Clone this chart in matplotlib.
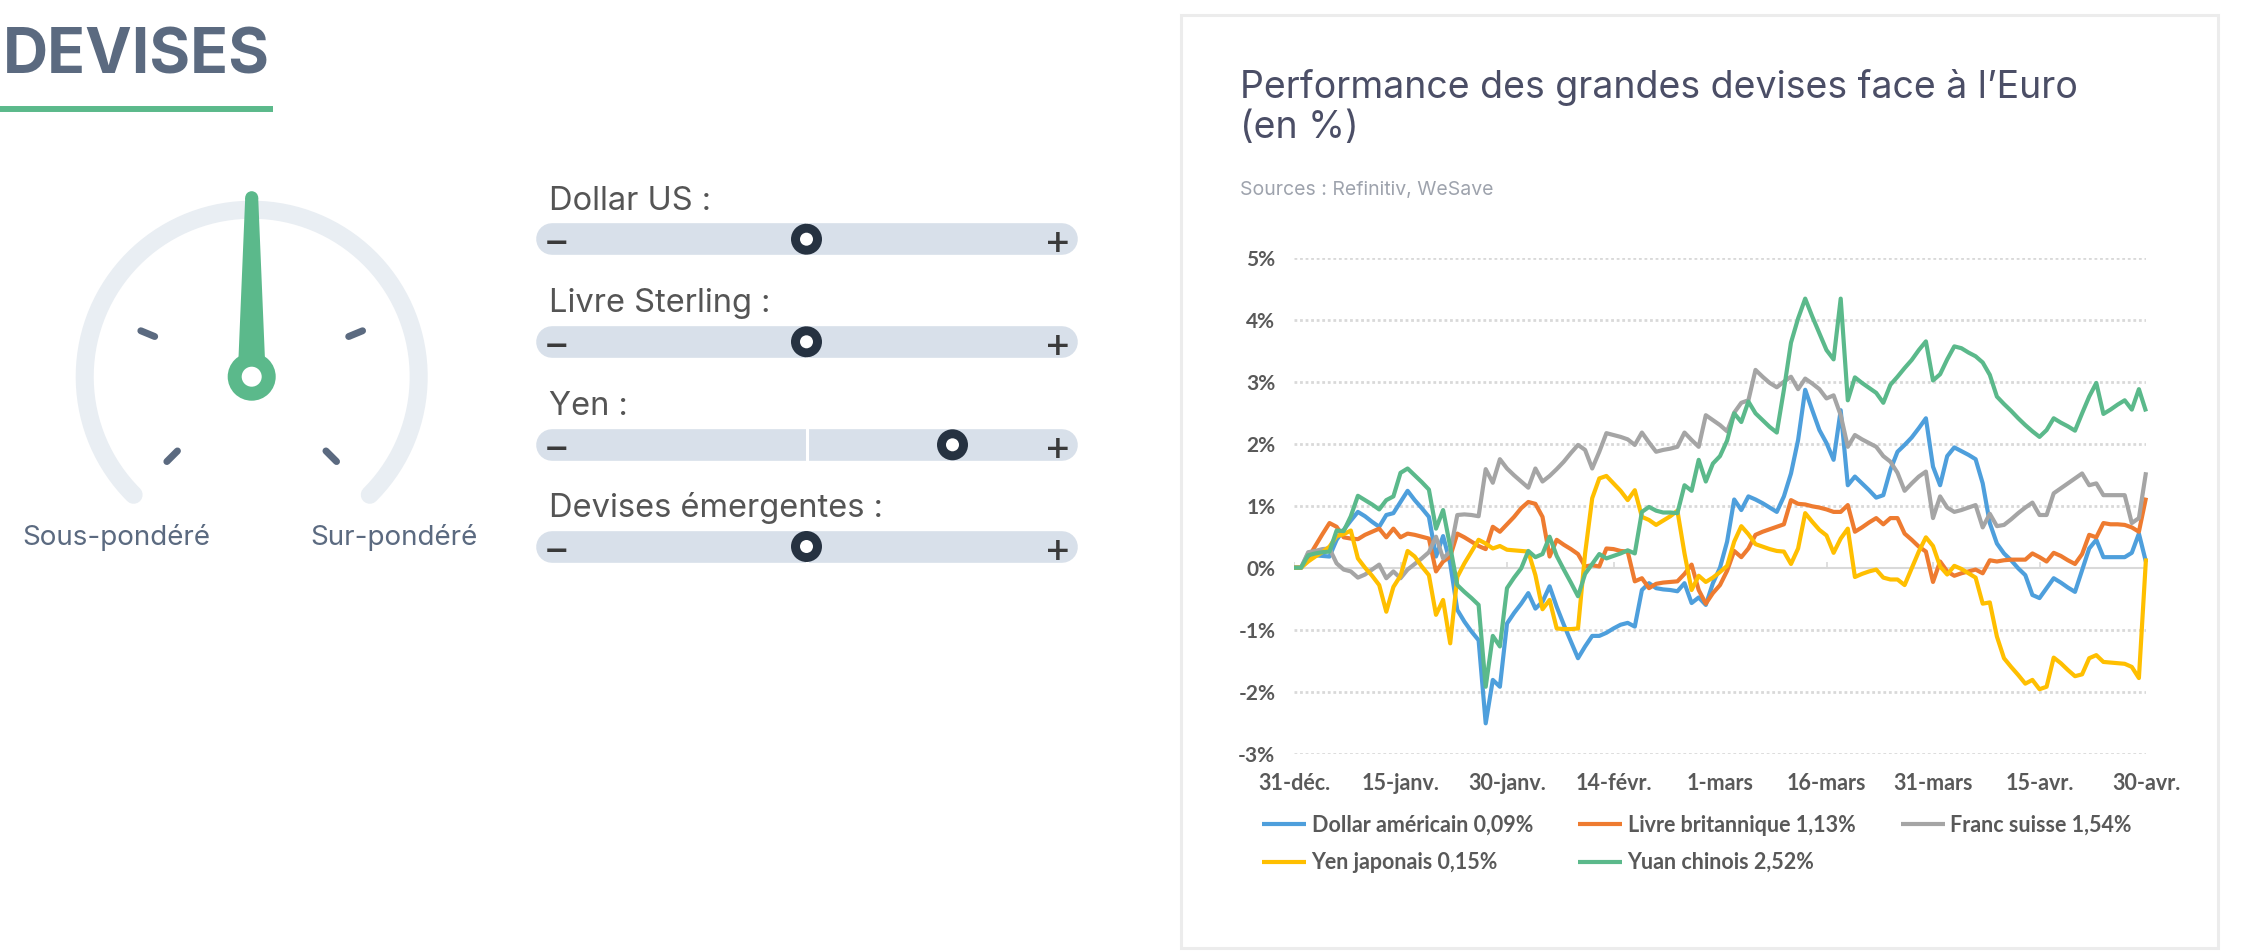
import matplotlib.pyplot as plt
import numpy as np
import pandas as pd
from matplotlib.patches import Circle, Polygon, Rectangle

plt.rcParams['font.family'] = ['Inter', 'DejaVu Sans']

W, H = 2247, 952

# ---- chart data: daily performance vs Euro, in % ----
dates = pd.date_range("2021-12-31", "2022-04-30", freq="D")
tick_labels = ["31-déc.", "15-janv.", "30-janv.", "14-févr.", "1-mars",
               "16-mars", "31-mars", "15-avr.", "30-avr."]

dollar = [0.00, 0.00, 0.23, 0.20, 0.19, 0.18, 0.45, 0.61, 0.76, 0.90,
          0.83, 0.74, 0.66, 0.85, 0.88, 1.06, 1.24, 1.09, 0.96, 0.82,
          0.18, 0.51, 0.07, -0.68, -0.87, -1.03, -1.17, -2.51, -1.81, -1.92,
          -0.90, -0.73, -0.58, -0.41, -0.66, -0.55, -0.30, -0.63, -0.92, -1.19,
          -1.46, -1.27, -1.10, -1.10, -1.05, -0.98, -0.92, -0.89, -0.95, -0.36,
          -0.25, -0.33, -0.35, -0.36, -0.38, -0.25, -0.57, -0.48, -0.60, -0.25,
          0.00, 0.42, 1.10, 0.93, 1.15, 1.10, 1.04, 0.97, 0.90, 1.15,
          1.52, 2.06, 2.87, 2.54, 2.22, 2.01, 1.74, 2.54, 1.33, 1.47,
          1.36, 1.25, 1.13, 1.17, 1.58, 1.87, 1.98, 2.10, 2.25, 2.41,
          1.63, 1.33, 1.80, 1.94, 1.88, 1.82, 1.75, 1.36, 0.72, 0.39,
          0.23, 0.12, -0.01, -0.12, -0.44, -0.49, -0.33, -0.17, -0.24, -0.32,
          -0.39, -0.04, 0.31, 0.45, 0.17, 0.17, 0.17, 0.17, 0.24, 0.55,
          0.09]

livre = [0.00, 0.00, 0.16, 0.35, 0.54, 0.72, 0.66, 0.49, 0.47, 0.46,
         0.53, 0.58, 0.63, 0.49, 0.63, 0.49, 0.55, 0.53, 0.50, 0.47,
         -0.06, 0.10, 0.18, 0.55, 0.49, 0.42, 0.35, 0.30, 0.66, 0.58,
         0.70, 0.82, 0.96, 1.06, 1.03, 0.82, 0.18, 0.45, 0.37, 0.30,
         0.22, 0.02, 0.04, 0.02, 0.31, 0.30, 0.27, 0.26, -0.22, -0.17,
         -0.33, -0.26, -0.24, -0.23, -0.22, -0.10, 0.05, -0.36, -0.58, -0.41,
         -0.28, -0.05, 0.27, 0.17, 0.31, 0.53, 0.58, 0.62, 0.66, 0.70,
         1.09, 1.03, 1.02, 0.99, 0.97, 0.94, 0.90, 0.90, 1.01, 0.58,
         0.65, 0.73, 0.80, 0.70, 0.80, 0.80, 0.55, 0.45, 0.34, 0.26,
         -0.23, 0.10, -0.06, -0.13, -0.09, -0.06, -0.03, -0.09, 0.12, 0.10,
         0.12, 0.13, 0.13, 0.13, 0.23, 0.17, 0.10, 0.24, 0.19, 0.12,
         0.06, 0.22, 0.53, 0.49, 0.72, 0.70, 0.70, 0.69, 0.65, 0.58,
         1.13]

franc = [0.00, 0.00, 0.25, 0.27, 0.30, 0.31, 0.07, -0.03, -0.06, -0.16,
         -0.11, -0.03, 0.05, -0.17, -0.06, -0.17, -0.03, 0.06, 0.15, 0.25,
         0.50, 0.15, 0.26, 0.85, 0.86, 0.85, 0.83, 1.59, 1.37, 1.75,
         1.60, 1.49, 1.39, 1.29, 1.60, 1.39, 1.48, 1.59, 1.71, 1.85,
         1.98, 1.90, 1.60, 1.87, 2.17, 2.14, 2.11, 2.07, 1.98, 2.18,
         2.02, 1.87, 1.90, 1.92, 1.95, 2.18, 2.06, 1.95, 2.46, 2.38,
         2.30, 2.20, 2.50, 2.66, 2.70, 3.19, 3.08, 2.98, 2.91, 3.00,
         3.08, 2.88, 3.05, 2.97, 2.88, 2.73, 2.78, 2.46, 1.95, 2.14,
         2.07, 2.01, 1.95, 1.80, 1.71, 1.53, 1.24, 1.36, 1.47, 1.55,
         0.80, 1.15, 0.97, 0.90, 0.93, 0.97, 1.01, 0.65, 0.87, 0.67,
         0.69, 0.78, 0.88, 0.97, 1.05, 0.85, 0.85, 1.20, 1.28, 1.36,
         1.44, 1.52, 1.33, 1.36, 1.17, 1.17, 1.17, 1.17, 0.72, 0.80,
         1.54]

yen = [0.00, 0.00, 0.10, 0.18, 0.25, 0.34, 0.51, 0.54, 0.60, 0.15,
       0.00, -0.13, -0.28, -0.71, -0.31, -0.13, 0.27, 0.18, 0.02, -0.12,
       -0.76, -0.52, -1.22, -0.15, 0.07, 0.26, 0.45, 0.39, 0.31, 0.35,
       0.29, 0.28, 0.27, 0.26, -0.12, -0.67, -0.52, -0.98, -0.99, -0.99,
       -0.98, 0.23, 1.12, 1.44, 1.48, 1.36, 1.24, 1.09, 1.25, 0.82,
       0.77, 0.69, 0.76, 0.83, 0.92, 0.23, -0.36, -0.13, -0.23, -0.16,
       -0.07, 0.03, 0.42, 0.67, 0.54, 0.38, 0.34, 0.30, 0.27, 0.26,
       0.06, 0.31, 0.88, 0.74, 0.61, 0.52, 0.24, 0.47, 0.63, -0.15,
       -0.10, -0.06, -0.03, -0.16, -0.19, -0.19, -0.28, -0.01, 0.26, 0.49,
       0.35, 0.02, -0.11, 0.03, -0.02, -0.09, -0.16, -0.58, -0.56, -1.11,
       -1.46, -1.60, -1.73, -1.87, -1.81, -1.96, -1.92, -1.45, -1.54, -1.65,
       -1.75, -1.72, -1.46, -1.41, -1.52, -1.53, -1.54, -1.55, -1.60, -1.78,
       0.15]

yuan = [0.00, 0.00, 0.20, 0.23, 0.25, 0.26, 0.60, 0.59, 0.83, 1.16,
        1.09, 1.02, 0.94, 1.09, 1.15, 1.53, 1.60, 1.49, 1.38, 1.26,
        0.63, 0.93, 0.34, -0.28, -0.39, -0.49, -0.60, -1.92, -1.10, -1.27,
        -0.33, -0.16, -0.01, 0.27, 0.17, 0.22, 0.50, 0.19, -0.03, -0.24,
        -0.46, -0.10, 0.06, 0.22, 0.15, 0.19, 0.23, 0.28, 0.23, 0.90,
        0.98, 0.92, 0.89, 0.89, 0.88, 1.33, 1.24, 1.74, 1.39, 1.68,
        1.80, 2.05, 2.49, 2.35, 2.68, 2.49, 2.38, 2.27, 2.18, 2.87,
        3.63, 4.02, 4.34, 4.05, 3.78, 3.51, 3.36, 4.34, 2.70, 3.07,
        2.98, 2.90, 2.82, 2.66, 2.95, 3.08, 3.22, 3.35, 3.51, 3.65,
        3.02, 3.12, 3.36, 3.57, 3.54, 3.47, 3.41, 3.31, 3.11, 2.76,
        2.64, 2.53, 2.41, 2.30, 2.20, 2.11, 2.22, 2.41, 2.34, 2.28,
        2.21, 2.49, 2.76, 2.98, 2.48, 2.55, 2.63, 2.70, 2.55, 2.88,
        2.52]

series_names = ["Dollar américain 0,09%", "Livre britannique 1,13%",
                "Franc suisse 1,54%", "Yen japonais 0,15%", "Yuan chinois 2,52%"]
series_values = [dollar, livre, franc, yen, yuan]
series_colors = ["#4e9fdc", "#ee7b30", "#a5a5a5", "#ffbf00", "#5bb98b"]

# ---- left panel content ----
slider_labels = ["Dollar US :", "Livre Sterling :", "Yen :", "Devises émergentes :"]
slider_levels = [0, 0, 1, 0]      # 0 = neutre, +1 = sur-pondéré
gauge_level = 0

fig = plt.figure(figsize=(W / 100, H / 100), dpi=100)
fig.patch.set_facecolor("white")

# background canvas in pixel coordinates
bg = fig.add_axes([0, 0, 1, 1])
bg.set_xlim(0, W)
bg.set_ylim(H, 0)
bg.axis("off")

slate = "#5b6a80"
green = "#5bb98b"

bg.text(3, 74, "DEVISES", fontsize=45, fontweight="bold", color=slate, va="baseline", ha="left")
bg.plot([0, 273], [109, 109], color=green, lw=4.3, solid_capstyle="butt")

# gauge
cx, cy, r = 251.7, 376.7, 167
th = np.radians(np.linspace(-45, 225, 200))
bg.plot(cx + r * np.cos(th), cy - r * np.sin(th), color="#e9eef3", lw=13, solid_capstyle="round")
for a in [225, 157.5, 22.5, -45]:
    t = np.radians(a)
    bg.plot([cx + 105 * np.cos(t), cx + 120 * np.cos(t)],
            [cy - 105 * np.sin(t), cy - 120 * np.sin(t)],
            color=slate, lw=5, solid_capstyle="round")
na = np.radians(90 - 67.5 * gauge_level)
ux, uy = np.cos(na), -np.sin(na)
px, py = -uy, ux
tip_len, tip_w, base_w = 179, 6.5, 14
bg.add_patch(Polygon([(cx + ux * tip_len + px * tip_w, cy + uy * tip_len + py * tip_w),
                      (cx + ux * tip_len - px * tip_w, cy + uy * tip_len - py * tip_w),
                      (cx - px * base_w, cy - py * base_w),
                      (cx + px * base_w, cy + py * base_w)],
                     closed=True, facecolor=green, edgecolor="none", zorder=3))
bg.add_patch(Circle((cx + ux * tip_len, cy + uy * tip_len), tip_w, facecolor=green, edgecolor="none", zorder=3))
bg.add_patch(Circle((cx, cy), 24, facecolor=green, edgecolor="none", zorder=3))
bg.add_patch(Circle((cx, cy), 10, facecolor="white", edgecolor="none", zorder=4))
bg.text(116, 545, "Sous-pondéré", fontsize=20, color=slate, ha="center", va="baseline")
bg.text(394, 545, "Sur-pondéré", fontsize=20, color=slate, ha="center", va="baseline")

# sliders
track_y = [239.2, 341.8, 444.8, 546.5]
for label, level, y in zip(slider_labels, slider_levels, track_y):
    bg.text(549, y - 29.5, label, fontsize=23.5, color="#555555", ha="left", va="baseline")
    bg.plot([552, 1062], [y, y], color="#d8e0ea", lw=22.8, solid_capstyle="round", zorder=2)
    bg.plot([807, 807], [y - 15.8, y + 15.8], color="white", lw=2.2, zorder=2)
    kx = 806.5 + 146 * level
    bg.add_patch(Circle((kx, y), 15.5, facecolor="#263241", edgecolor="none", zorder=5))
    bg.add_patch(Circle((kx, y), 6.5, facecolor="white", edgecolor="none", zorder=6))
    bg.text(556.5, y, "\u2212", fontsize=30, color="#3a3a3a", ha="center", va="center_baseline", zorder=6)
    bg.text(1057.5, y, "+", fontsize=30, color="#3a3a3a", ha="center", va="center_baseline", zorder=6)

# chart panel frame and titles
bg.add_patch(Rectangle((1181, 15), 2218 - 1181, 948 - 15, facecolor="none", edgecolor="#ececec", lw=2.2))
title_color = "#4b4e66"
bg.text(1240, 98.3, "Performance des grandes devises face à l\u2019Euro", fontsize=27,
        color=title_color, ha="left", va="baseline")
bg.text(1240, 138.3, "(en %)", fontsize=27, color=title_color, ha="left", va="baseline")
bg.text(1240, 195, "Sources : Refinitiv, WeSave", fontsize=14, color="#9ea3ad", ha="left", va="baseline")

# ---- line chart ----
ax = fig.add_axes([1294 / W, 1 - 753.7 / H, (2146 - 1294) / W, (753.7 - 257.7) / H])
ax.patch.set_alpha(0)
for s in ax.spines.values():
    s.set_visible(False)

grid_col = "#d9d9d9"
for v in [-3, -2, -1, 1, 2, 3, 4, 5]:
    ax.axhline(v, color=grid_col, lw=2, dashes=(1, 1), zorder=0)
ax.axhline(0, color=grid_col, lw=1.5, zorder=0)
ax.vlines(dates[::15], 0, 0.09, color=grid_col, lw=1.2, zorder=0)

lines = []
for name, vals, col in zip(series_names, series_values, series_colors):
    (ln,) = ax.plot(dates, vals, color=col, lw=3.0, solid_joinstyle="round",
                    solid_capstyle="butt", clip_on=False, label=name)
    lines.append(ln)

ax.set_xlim(dates[0], dates[-1])
ax.set_ylim(-3, 5)
ax.set_yticks(range(-3, 6))
ax.set_yticklabels([f"{v}%" for v in range(-3, 6)])
ax.set_xticks(dates[::15])
ax.set_xticklabels(tick_labels)
ax.tick_params(axis="y", length=0, pad=13.5, labelsize=15, labelcolor="#595959")
ax.tick_params(axis="x", length=0, pad=14, labelsize=15.5, labelcolor="#595959")
for t in ax.get_xticklabels() + ax.get_yticklabels():
    t.set_fontfamily(["Lato", "DejaVu Sans"])
    t.set_fontweight("bold")

order = [0, 3, 1, 4, 2]
leg = ax.legend([lines[i] for i in order], [series_names[i] for i in order], ncol=3,
                loc="upper left", bbox_to_anchor=(1262 / W, 1 - 815 / H),
                bbox_transform=fig.transFigure, frameon=False,
                prop=dict(family=["Lato", "DejaVu Sans"], weight="bold", size=15.5),
                handlelength=2.05, handletextpad=0.25, columnspacing=2.1,
                labelspacing=0.75, borderpad=0, borderaxespad=0)
for t in leg.get_texts():
    t.set_color("#595959")

fig.savefig("out.png", dpi=100, facecolor="white")
